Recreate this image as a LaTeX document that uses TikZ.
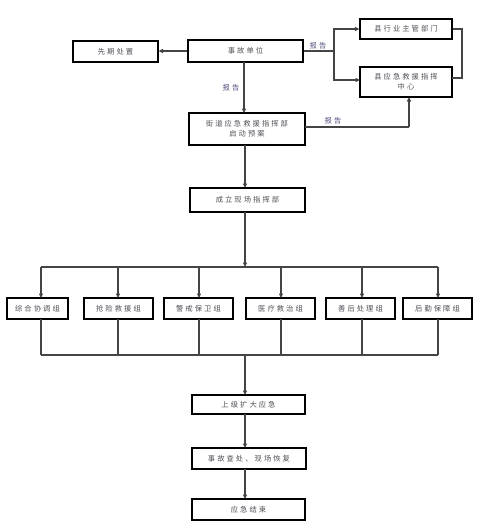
\documentclass[tikz,border=0pt]{standalone}
\usepackage{fontspec}
\newfontfamily\cjk[LetterSpace=28]{Noto Sans CJK SC}
\usetikzlibrary{arrows.meta}
\definecolor{txt}{HTML}{505058}
\definecolor{lbl}{HTML}{505080}
\definecolor{ln}{HTML}{444444}
\tikzset{
  box/.style={draw=black, line width=1.1pt, fill=white, inner sep=0pt, text=txt,
    font=\cjk\fontsize{7.3}{10}\selectfont, align=center},
  conn/.style={draw=ln, line width=1.1pt},
  arr/.style={conn, -{Triangle[length=4.5pt,width=4pt]}},
  lab/.style={font=\cjk\fontsize{7.3}{9}\selectfont, text=lbl, inner sep=1pt}
}
\begin{document}
\begin{tikzpicture}[x=1pt,y=-1pt]
\useasboundingbox (0,0) rectangle (504,531);
% boxes (corner-defined)
\newcommand\bx[6]{\node[box, minimum width=#3-#1, minimum height=#4-#2] (#5) at ({(#1+#3)/2},{(#2+#4)/2}) {#6};}
\bx{73}{41}{158}{62}{xq}{先期处置}
\bx{188}{40}{303}{62}{sg}{事故单位}
\bx{360}{19}{452}{39}{hy}{县行业主管部门}
\bx{360}{67}{452}{97}{yj}{县应急救援指挥\\中心}
\bx{189}{113}{305}{145}{jd}{街道应急救援指挥部\\启动预案}
\bx{190}{188}{305}{212}{cl}{成立现场指挥部}
\bx{7}{298}{68}{319}{g1}{综合协调组}
\bx{84}{298}{153}{319}{g2}{抢险救援组}
\bx{164}{298}{233}{319}{g3}{警戒保卫组}
\bx{246}{298}{315}{319}{g4}{医疗救治组}
\bx{326}{298}{395}{319}{g5}{善后处理组}
\bx{403}{298}{472}{319}{g6}{后勤保障组}
\bx{192}{395}{305}{414}{sj}{上级扩大应急}
\bx{192}{448}{306}{469}{cc}{事故查处、现场恢复}
\bx{192}{499}{305}{520}{js}{应急结束}
% coordinates
\coordinate (b1) at (334,51);
\coordinate (top) at (41,267);
\coordinate (topR) at (438,267);
\coordinate (bot) at (41,355);
\coordinate (botR) at (438,355);
% top connectors
\draw[arr] (sg.west) -- (sg.west -| xq.east);
\draw[conn] (sg.east) -- (b1);
\draw[arr] (b1) |- (hy.west);
\draw[arr] (b1) |- (360,80);
\node[lab] (l1) at (318,46) {报告};
\draw[conn] (hy.east) -- (462,29) |- (452,78);
\draw[arr] (244,62) -- (244,113);
\node[lab] (l2) at (231,88) {报告};
\draw[conn] (305,127) -- (409,127);
\draw[arr] (409,127) -- (409,97);
\node[lab] (l3) at (333,121) {报告};
\draw[arr] (245,145) -- (245,188);
\draw[arr] (245,212) -- (245,267);
% top bus
\draw[conn] (top) -- (topR);
\foreach \x/\g in {41/g1,118/g2,199/g3,281/g4,362/g5,438/g6}{
  \draw[arr] (\x,267) -- (\x,298);
  \draw[conn] (\x,319) -- (\x,355);
}
\draw[conn] (bot) -- (botR);
\draw[arr] (245,355) -- (245,395);
\draw[arr] (245,414) -- (245,448);
\draw[arr] (245,469) -- (245,499);
\end{tikzpicture}
\end{document}
